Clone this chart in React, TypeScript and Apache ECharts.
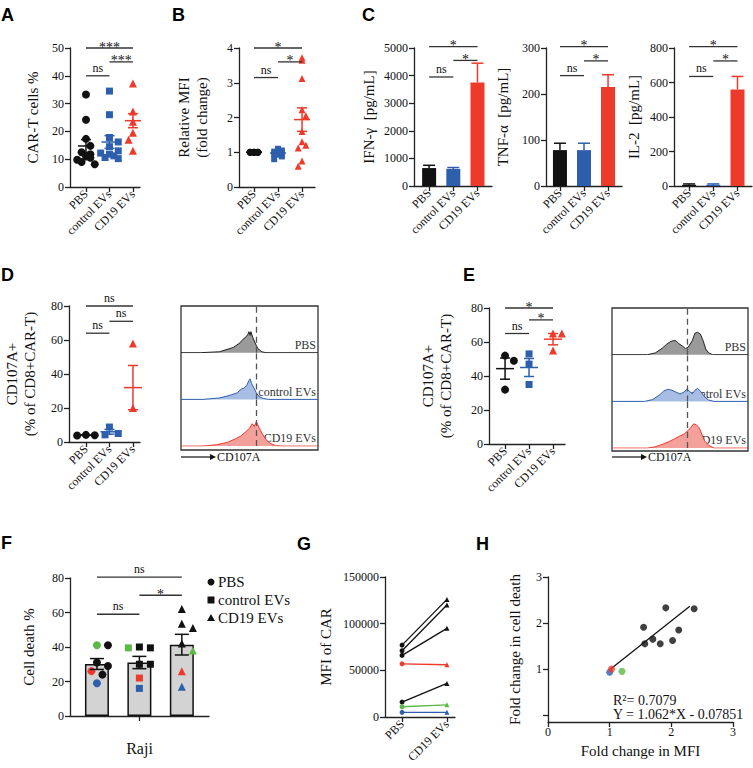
import React, { useEffect, useRef } from "react";
import * as echarts from "echarts";

const SERIF = "'Liberation Serif', 'Times New Roman', serif";
const SANS = "'Liberation Sans', Arial, sans-serif";
const INK = "#111";
const BLACK = "#111111";
const BLUE = "#2d5fad";
const RED = "#ee3a2b";
const GREEN = "#5cb847";
const GROUPS = ["PBS", "control EVs", "CD19 EVs"];

// ---- A: CAR-T cells %
const A_PBS = [33.3, 24.2, 17.3, 14.8, 12.5, 11.8, 11.0, 10.5, 9.8, 9.0, 8.2];
const A_CTRL = [34.5, 26.0, 17.8, 16.2, 14.5, 13.0, 12.2, 11.2, 10.6, 10.2, 11.8];
const A_CD19 = [37.2, 36.5, 27.2, 25.3, 23.5, 21.5, 19.5, 17.8, 17.0, 13.0];
const SIG_A = [[1, 3, 50, "***"], [2, 3, 45, "***"], [1, 2, 40, "ns"]];

// ---- B: Relative MFI
const B_PBS = [1, 1, 1, 1, 1, 1, 1, 1, 1, 1];
const B_CTRL = [1.08, 1.1, 1.02, 0.97, 0.93, 0.88, 0.8, 1.0, 0.95, 1.05];
const B_CD19 = [3.72, 3.65, 3.12, 2.22, 2.05, 1.6, 1.3, 1.2, 1.12, 0.75, 0.6];
const SIG_B = [[1, 3, 4.0, "*"], [2, 3, 3.6, "*"], [1, 2, 3.15, "ns"]];

// ---- C: cytokines (mean, error)
const C_IFN = [650, 620, 3750];
const C_IFN_ERR = [100, 50, 700];
const C_TNF = [78, 78, 215];
const C_TNF_ERR = [15, 15, 27];
const C_IL2 = [7, 7, 560];
const C_IL2_ERR = [5, 5, 75];
const SIG_IFN = [[1, 3, 5050, "*"], [2, 3, 4550, "*"], [1, 2, 3950, "ns"]];
const SIG_TNF = [[1, 3, 303, "*"], [2, 3, 272, "*"], [1, 2, 240, "ns"]];
const SIG_IL2 = [[1, 3, 808, "*"], [2, 3, 725, "*"], [1, 2, 635, "ns"]];

// ---- D: CD107A+ (%)
const D_PBS = [4.2, 4.0, 3.8];
const D_CTRL = [8.8, 5.0, 4.2];
const D_CD19 = [58, 20, 18];
const SIG_D = [[1, 3, 80, "ns"], [2, 3, 71, "ns"], [1, 2, 64, "ns"]];

// ---- E: CD107A+ (%)
const E_PBS = [52, 49, 32];
const E_CTRL = [53, 47, 35];
const E_CD19 = [65, 65, 55];
const SIG_E = [[1, 3, 80, "*"], [2, 3, 73, "*"], [1, 2, 65, "ns"]];

// ---- Histograms (CD107A intensity 0-100, count as % of row height)
const D_HIST_PBS = [[0, 0], [14, 0], [28, 2], [38, 11], [43, 21], [45, 28], [47.5, 34], [49, 40], [49.6, 45], [50.4, 37], [51, 45], [52.5, 32], [54.7, 17], [56, 9], [59, 2], [62, 0], [100, 0]];
const D_HIST_CTRL = [[0, 0], [16, 0], [28, 3], [36, 9], [41, 14], [44, 22], [46, 24], [48, 30], [49.5, 40], [50.5, 44], [51.5, 34], [53, 26], [55, 14], [57, 6], [60, 2], [64, 0], [100, 0]];
const D_HIST_CD19 = [[0, 0], [16, 0], [26, 3], [34, 8], [40, 16], [44, 22], [47, 30], [50, 38], [52, 48], [53.5, 42], [55, 52], [57, 40], [59, 28], [62, 14], [65, 6], [69, 1], [74, 0], [100, 0]];
const E_HIST_PBS = [[0, 0], [26, 0], [32, 4], [37, 14], [40, 22], [43, 28], [45, 30], [47, 30], [49, 24], [52, 18], [54, 13], [56, 16], [59, 30], [61, 46], [63, 48], [65, 44], [67, 30], [69, 12], [71, 4], [74, 0], [100, 0]];
const E_HIST_CTRL = [[0, 0], [24, 0], [30, 4], [35, 14], [38, 22], [41, 26], [44, 24], [47, 20], [50, 16], [53, 20], [55, 26], [57, 22], [59, 16], [61, 24], [63, 28], [65, 22], [68, 10], [71, 3], [75, 0], [100, 0]];
const E_HIST_CD19 = [[0, 0], [26, 0], [32, 3], [37, 8], [42, 14], [46, 20], [50, 26], [53, 30], [56, 38], [58, 44], [60, 52], [62, 50], [64, 44], [66, 30], [68, 16], [71, 6], [75, 0], [100, 0]];
const HIST_GATE = 55;
const HIST_ROWS = ["PBS", "control EVs", "CD19 EVs"];

// ---- F: Cell death % (Raji), one value per donor
const F_PBS = [41, 41, 31, 29, 26, 24, 19];
const F_PBS_DONOR = ["g", "k", "k", "k", "r", "k", "b"];
const F_CTRL = [39.5, 40, 39.5, 30, 30, 22, 16];
const F_CTRL_DONOR = ["k", "k", "g", "k", "k", "r", "b"];
const F_CD19 = [62, 51, 53.5, 42, 38, 26, 17];
const F_CD19_DONOR = ["k", "k", "k", "k", "g", "r", "b"];
const SIG_F = [[1, 3, 80.5, "ns"], [2, 3, 70, "*"], [1, 2, 59, "ns"]];

// ---- G: MFI of CAR per donor (PBS -> CD19 EVs)
const G_PBS = [77000, 71000, 66000, 16000, 57000, 11000, 5000];
const G_CD19 = [126000, 120000, 95000, 36000, 56000, 13000, 5000];
const G_DONOR = ["k", "k", "k", "k", "r", "g", "b"];

// ---- H: fold change in MFI vs fold change in cell death
const H_X = [1.0, 1.03, 1.2, 1.55, 1.57, 1.7, 1.82, 1.91, 2.02, 2.12, 2.37];
const H_Y = [0.93, 1.0, 0.95, 1.91, 1.55, 1.65, 1.55, 2.33, 1.62, 1.85, 2.31];
const H_DONOR = ["b", "r", "g", "k", "k", "k", "k", "k", "k", "k", "k"];
const H_FIT_SLOPE = 1.062;
const H_FIT_INTERCEPT = -0.07851;
const H_FIT_RANGE = [1.0, 2.3];

const DONOR_COLOR: Record<string, string> = { k: BLACK, r: RED, g: GREEN, b: BLUE };

function mean(a: number[]) { return a.reduce((s, v) => s + v, 0) / a.length; }
function sem(a: number[]) {
  const m = mean(a);
  const v = a.reduce((s, x) => s + (x - m) * (x - m), 0) / (a.length - 1);
  return Math.sqrt(v) / Math.sqrt(a.length);
}

function swarm(values: number[], pxX: number, pxY: number, diam: number, maxPx: number) {
  const order = values.map((_, i) => i).sort((a, b) => values[b] - values[a]);
  const placed: { x: number; y: number }[] = [];
  const offs = new Array(values.length).fill(0);
  const step = diam * 0.55;
  const cands: number[] = [0];
  for (let k = 1; k * step <= maxPx + 1e-6; k++) cands.push(k * step, -k * step);
  let fb = 0;
  for (const i of order) {
    const y = values[i] * pxY;
    let chosen: number | null = null;
    for (const c of cands) {
      if (placed.every((p) => Math.hypot(p.x - c, p.y - y) >= diam)) { chosen = c; break; }
    }
    if (chosen === null) { chosen = cands[fb % cands.length]; fb++; }
    placed.push({ x: chosen, y });
    offs[i] = chosen / pxX;
  }
  return offs;
}

const AXL = { color: "#222", width: 1.3 };
const plain = (v: number) => String(v);

function yAx(gi: number, min: number, max: number, interval: number, name: string, nameGap: number, extra: any = {}) {
  return {
    type: "value", gridIndex: gi, min, max, interval,
    name, nameLocation: "middle", nameGap, nameRotate: 90,
    nameTextStyle: { fontFamily: SERIF, fontSize: 15, color: INK, lineHeight: 18 },
    axisLine: { show: true, lineStyle: AXL },
    axisTick: { show: true, length: 5, lineStyle: AXL },
    axisLabel: { fontFamily: SERIF, fontSize: 12, color: INK, margin: 6, formatter: plain },
    splitLine: { show: false },
    ...extra,
  };
}

function xCat(gi: number, min: number, max: number, ticks: number[], labels: string[] | null, extra: any = {}) {
  return {
    type: "value", gridIndex: gi, min, max,
    axisLine: { show: true, onZero: false, lineStyle: AXL },
    axisTick: { show: true, customValues: ticks, length: 5, lineStyle: AXL },
    axisLabel: labels
      ? { show: true, customValues: ticks, rotate: 45, margin: 5, fontFamily: SERIF, fontSize: 12, color: INK,
          formatter: (v: number) => labels[Math.round(v) - 1] ?? "" }
      : { show: false },
    splitLine: { show: false },
    ...extra,
  };
}

function hiddenAx(gi: number, min: number, max: number) {
  return { type: "value", gridIndex: gi, min, max, show: false, splitLine: { show: false } };
}

function sigSeries(gi: number, sig: any[], fontStar = 15) {
  return {
    type: "custom", xAxisIndex: gi, yAxisIndex: gi, silent: true, z: 6,
    data: sig.map((s) => [s[0], s[1], s[2]]),
    encode: { x: [0, 1], y: 2 },
    renderItem: (params: any, api: any) => {
      const a = api.coord([api.value(0), api.value(2)]);
      const b = api.coord([api.value(1), api.value(2)]);
      const label = sig[params.dataIndex][3];
      const isStar = label.indexOf("*") >= 0;
      return {
        type: "group",
        children: [
          { type: "line", shape: { x1: a[0], y1: a[1], x2: b[0], y2: b[1] }, style: { stroke: "#333", lineWidth: 1.3 } },
          {
            type: "text",
            x: (a[0] + b[0]) / 2, y: a[1] + (isStar ? 6 : -2),
            style: {
              text: label, fontFamily: SERIF, fontSize: isStar ? fontStar : 12, fill: INK,
              align: "center", verticalAlign: "bottom",
            },
          },
        ],
      };
    },
  };
}

function meanSem(gi: number, groups: number[][], colors: string[], halfW: number, capW: number) {
  return {
    type: "custom", xAxisIndex: gi, yAxisIndex: gi, silent: true, z: 5,
    data: groups.map((g, i) => [i + 1, mean(g), sem(g)]),
    encode: { x: 0, y: 1 },
    renderItem: (params: any, api: any) => {
      const x = api.value(0), m = api.value(1), e = api.value(2);
      const c = api.coord([x, m]), t = api.coord([x, m + e]), b = api.coord([x, m - e]);
      const st = { stroke: colors[params.dataIndex], lineWidth: 1.5 };
      return {
        type: "group",
        children: [
          { type: "line", shape: { x1: c[0] - halfW, y1: c[1], x2: c[0] + halfW, y2: c[1] }, style: st },
          { type: "line", shape: { x1: c[0], y1: t[1], x2: c[0], y2: b[1] }, style: st },
          { type: "line", shape: { x1: c[0] - capW, y1: t[1], x2: c[0] + capW, y2: t[1] }, style: st },
          { type: "line", shape: { x1: c[0] - capW, y1: b[1], x2: c[0] + capW, y2: b[1] }, style: st },
        ],
      };
    },
  };
}

function errUp(gi: number, vals: number[], errs: number[], colors: string[], capW: number, both = false) {
  return {
    type: "custom", xAxisIndex: gi, yAxisIndex: gi, silent: true, z: 4,
    data: vals.map((v, i) => [i + 1, v, errs[i]]),
    encode: { x: 0, y: 1 },
    renderItem: (params: any, api: any) => {
      const x = api.value(0), m = api.value(1), e = api.value(2);
      const c = api.coord([x, both ? m - e : m]), t = api.coord([x, m + e]);
      const st = { stroke: colors[params.dataIndex], lineWidth: 1.5 };
      const ch: any[] = [
        { type: "line", shape: { x1: c[0], y1: t[1], x2: c[0], y2: c[1] }, style: st },
        { type: "line", shape: { x1: c[0] - capW, y1: t[1], x2: c[0] + capW, y2: t[1] }, style: st },
      ];
      if (both) ch.push({ type: "line", shape: { x1: c[0] - capW, y1: c[1], x2: c[0] + capW, y2: c[1] }, style: st });
      return { type: "group", children: ch };
    },
  };
}

function scatterGroups(gi: number, groups: number[][], pxX: number, pxY: number, diam: number, maxPx: number, size: number, colorsPerGroup?: string[][]) {
  const symbols = ["circle", "rect", "triangle"];
  const cols = [BLACK, BLUE, RED];
  return groups.map((g, gi2) => {
    const offs = swarm(g, pxX, pxY, diam, maxPx);
    return {
      type: "scatter", xAxisIndex: gi, yAxisIndex: gi, silent: true, z: 3,
      symbol: symbols[gi2], symbolSize: gi2 === 1 ? size - 1 : size,
      itemStyle: { color: cols[gi2], opacity: 1 },
      data: g.map((v, i) => ({
        value: [gi2 + 1 + offs[i], v],
        itemStyle: colorsPerGroup ? { color: colorsPerGroup[gi2][i] } : undefined,
      })),
    };
  });
}

function histSeries(gi: number, pts: number[][], line: string, fill: string, withGate: boolean) {
  return {
    type: "line", xAxisIndex: gi, yAxisIndex: gi, silent: true, symbol: "none",
    data: pts,
    lineStyle: { color: line, width: 1 },
    areaStyle: { color: fill, opacity: 1 },
    markLine: withGate
      ? { silent: true, symbol: "none", label: { show: false },
          lineStyle: { color: "#555", type: [6, 4], width: 1.3 },
          data: [{ xAxis: HIST_GATE }] }
      : undefined,
  };
}

function buildOption() {
  const grids: any[] = [];
  const xAxes: any[] = [];
  const yAxes: any[] = [];
  const series: any[] = [];
  const add = (g: any, x: any, y: any) => { grids.push(g); xAxes.push(x); yAxes.push(y); return grids.length - 1; };

  // A
  const gA = add({ left: 70, top: 48, width: 70, height: 139 }, xCat(0, 0.32, 3.3, [1, 2, 3], GROUPS), yAx(0, 0, 50, 10, "CAR-T cells %", 28));
  series.push(...scatterGroups(gA, [A_PBS, A_CTRL, A_CD19], 23.5, 2.78, 8, 9, 8));
  series.push(meanSem(gA, [A_PBS, A_CTRL, A_CD19], [BLACK, BLUE, RED], 8, 5));
  series.push(sigSeries(gA, SIG_A, 14));

  // B
  const gB = add({ left: 239, top: 48, width: 76, height: 139 }, xCat(1, 0.375, 3.54, [1, 2, 3], GROUPS), yAx(1, 0, 4, 1, "Relative MFI\n(fold change)", 28));
  series.push(...scatterGroups(gB, [B_PBS, B_CTRL, B_CD19], 24, 34.75, 7, 5, 7));
  series.push(meanSem(gB, [B_PBS, B_CTRL, B_CD19], [BLACK, BLUE, RED], 8, 5));
  series.push(sigSeries(gB, SIG_B, 14));

  // C
  const cDefs = [
    { left: 414, w: 78, min: 0.375, max: 3.6, vals: C_IFN, errs: C_IFN_ERR, ymax: 5000, iv: 1000, name: "IFN-γ  [pg/mL]", gap: 36, sig: SIG_IFN },
    { left: 546, w: 76, min: 0.42, max: 3.58, vals: C_TNF, errs: C_TNF_ERR, ymax: 300, iv: 100, name: "TNF-α  [pg/mL]", gap: 34, sig: SIG_TNF },
    { left: 674, w: 78, min: 0.375, max: 3.6, vals: C_IL2, errs: C_IL2_ERR, ymax: 800, iv: 200, name: "IL-2  [pg/mL]", gap: 31, sig: SIG_IL2 },
  ];
  cDefs.forEach((d) => {
    const idx = grids.length;
    add({ left: d.left, top: 48, width: d.w, height: 138 }, xCat(idx, d.min, d.max, [1, 2, 3], GROUPS), yAx(idx, 0, d.ymax, d.iv, d.name, d.gap));
    series.push({
      type: "bar", xAxisIndex: idx, yAxisIndex: idx, silent: true, barWidth: 14,
      data: d.vals.map((v, i) => ({ value: [i + 1, v], itemStyle: { color: [BLACK, BLUE, RED][i] } })),
    });
    series.push(errUp(idx, d.vals, d.errs, [BLACK, BLUE, RED], 6));
    series.push(sigSeries(idx, d.sig, 14));
  });

  // D scatter
  const gD = add({ left: 69, top: 306, width: 71, height: 136 }, xCat(5, 0.28, 3.3, [1, 2, 3], GROUPS), yAx(5, 0, 80, 20, "CD107A+\n(% of CD8+CAR-T)", 30));
  series.push(...scatterGroups(gD, [D_PBS, D_CTRL, D_CD19], 23.5, 1.7, 8, 9, 8));
  series.push(meanSem(gD, [D_PBS, D_CTRL, D_CD19], [BLACK, BLUE, RED], 9, 5));
  series.push(sigSeries(gD, SIG_D, 14));

  // D histograms
  const dRowTop = [306, 352.7, 399.4];
  const dHists = [[D_HIST_PBS, "#222", "#9a9a9a"], [D_HIST_CTRL, BLUE, "#a8bde3"], [D_HIST_CD19, RED, "#f4a19b"]];
  dHists.forEach((h: any, r) => {
    const idx = grids.length;
    add({ left: 181, top: dRowTop[r], width: 137, height: 46.7 }, hiddenAx(idx, 0, 100), hiddenAx(idx, 0, 100));
    series.push(histSeries(idx, h[0], h[1], h[2], true));
  });

  // E scatter
  const gE = add({ left: 489, top: 308, width: 76, height: 136 }, xCat(9, 0.33, 3.5, [1, 2, 3], GROUPS), yAx(9, 0, 80, 20, "CD107A+\n(% of CD8+CAR-T)", 34));
  series.push(...scatterGroups(gE, [E_PBS, E_CTRL, E_CD19], 24, 1.7, 8, 9, 8));
  series.push(meanSem(gE, [E_PBS, E_CTRL, E_CD19], [BLACK, BLUE, RED], 9, 5));
  series.push(sigSeries(gE, SIG_E, 14));

  // E histograms
  const eRowTop = [308, 354.7, 401.4];
  const eHists = [[E_HIST_PBS, "#222", "#9a9a9a"], [E_HIST_CTRL, BLUE, "#a8bde3"], [E_HIST_CD19, RED, "#f4a19b"]];
  eHists.forEach((h: any, r) => {
    const idx = grids.length;
    add({ left: 612, top: eRowTop[r], width: 136, height: 46.7 }, hiddenAx(idx, 0, 100), hiddenAx(idx, 0, 100));
    series.push(histSeries(idx, h[0], h[1], h[2], true));
  });

  // F
  const fx = xCat(13, 0.365, 3.64, [2], null, {
    name: "Raji", nameLocation: "middle", nameGap: 24,
    nameTextStyle: { fontFamily: SERIF, fontSize: 16, color: INK },
  });
  const gF = add({ left: 70, top: 578, width: 139, height: 138 }, fx, yAx(13, 0, 80, 20, "Cell death %", 32));
  const F_GROUPS = [F_PBS, F_CTRL, F_CD19];
  series.push({
    type: "bar", xAxisIndex: gF, yAxisIndex: gF, silent: true, barWidth: 24, z: 2,
    itemStyle: { color: "#d3d3d3", borderColor: "#111", borderWidth: 1.5 },
    data: F_GROUPS.map((g, i) => [i + 1, mean(g)]),
  });
  series.push(errUp(gF, F_GROUPS.map(mean), F_GROUPS.map(sem), [BLACK, BLACK, BLACK], 7, true));
  const donorCols = [F_PBS_DONOR, F_CTRL_DONOR, F_CD19_DONOR].map((d) => d.map((k) => DONOR_COLOR[k]));
  series.push(...scatterGroups(gF, F_GROUPS, 42.4, 1.725, 10, 13, 8, donorCols));
  series.push(sigSeries(gF, SIG_F, 14));

  // G
  const gG = add({ left: 385, top: 577, width: 70, height: 140 }, xCat(14, 0.62, 2.18, [1, 2], ["PBS", "CD19 EVs"]), yAx(14, 0, 150000, 50000, "MFI of CAR", 50));
  G_PBS.forEach((v, i) => {
    const col = DONOR_COLOR[G_DONOR[i]];
    series.push({
      type: "line", xAxisIndex: gG, yAxisIndex: gG, silent: true, symbolSize: 5,
      lineStyle: { color: col, width: 1.3 }, itemStyle: { color: col },
      data: [{ value: [1, v], symbol: "circle" }, { value: [2, G_CD19[i]], symbol: "triangle" }],
    });
  });

  // H (x axis offset below y = 0, as in the reference)
  const hx = {
    type: "value", gridIndex: 15, min: 0, max: 3, interval: 1,
    name: "Fold change in MFI", nameLocation: "middle", nameGap: 21,
    nameTextStyle: { fontFamily: SERIF, fontSize: 15, color: INK },
    axisLine: { show: true, onZero: false, lineStyle: AXL },
    axisTick: { show: true, length: 5, lineStyle: AXL },
    axisLabel: { fontFamily: SERIF, fontSize: 12, color: INK, margin: 4 },
    splitLine: { show: false },
  };
  const hy = {
    type: "value", gridIndex: 15, min: -0.15, max: 3,
    name: "Fold change in cell death", nameLocation: "middle", nameGap: 26, nameRotate: 90,
    nameTextStyle: { fontFamily: SERIF, fontSize: 15, color: INK },
    axisLine: { show: true, onZero: false, lineStyle: AXL },
    axisTick: { show: true, length: 5, customValues: [0, 1, 2, 3], lineStyle: AXL },
    axisLabel: { fontFamily: SERIF, fontSize: 12, color: INK, margin: 6, customValues: [1, 2, 3], formatter: plain },
    splitLine: { show: false },
  };
  const gH = add({ left: 548, top: 577, width: 185, height: 145 }, hx, hy);
  series.push({
    type: "line", xAxisIndex: gH, yAxisIndex: gH, silent: true, symbol: "none",
    lineStyle: { color: "#111", width: 1.3 },
    data: H_FIT_RANGE.map((x) => [x, H_FIT_SLOPE * x + H_FIT_INTERCEPT]),
  });
  series.push({
    type: "scatter", xAxisIndex: gH, yAxisIndex: gH, silent: true, symbolSize: 7, z: 4,
    data: H_X.map((x, i) => ({ value: [x, H_Y[i]], itemStyle: { color: DONOR_COLOR[H_DONOR[i]] } })),
  });

  // graphics
  const letter = (t: string, x: number, y: number) => ({
    type: "text", x, y, style: { text: t, fontFamily: SANS, fontWeight: "bold", fontSize: 18, fill: "#000", verticalAlign: "top" },
  });
  const txt = (t: string, x: number, y: number, align: string, size = 12) => ({
    type: "text", x, y, style: { text: t, fontFamily: SERIF, fontSize: size, fill: INK, align, verticalAlign: "middle" },
  });
  const graphic: any[] = [
    letter("A", 1, 6), letter("B", 172, 6), letter("C", 362, 6),
    letter("D", 1, 266), letter("E", 463, 266),
    letter("F", 1, 534), letter("G", 297, 535), letter("H", 476, 535),
    { type: "rect", shape: { x: 181, y: 306, width: 137, height: 144 }, style: { fill: "none", stroke: "#333", lineWidth: 1.3 } },
    { type: "rect", shape: { x: 612, y: 308, width: 136, height: 143 }, style: { fill: "none", stroke: "#333", lineWidth: 1.3 } },
    { type: "line", shape: { x1: 181, y1: 457, x2: 211, y2: 457 }, style: { stroke: "#111", lineWidth: 1.2 } },
    { type: "polygon", shape: { points: [[210, 454], [216, 457], [210, 460]] }, style: { fill: "#111" } },
    txt("CD107A", 217, 457, "left", 12),
    { type: "line", shape: { x1: 612, y1: 457, x2: 642, y2: 457 }, style: { stroke: "#111", lineWidth: 1.2 } },
    { type: "polygon", shape: { points: [[641, 454], [647, 457], [641, 460]] }, style: { fill: "#111" } },
    txt("CD107A", 648, 457, "left", 12),
    { type: "circle", shape: { cx: 211, cy: 582, r: 3.5 }, style: { fill: "#111" } },
    { type: "rect", shape: { x: 207.5, y: 596.5, width: 7, height: 7 }, style: { fill: "#111" } },
    { type: "polygon", shape: { points: [[211, 614], [215, 621], [207, 621]] }, style: { fill: "#111" } },
    txt("PBS", 218, 582, "left", 15), txt("control EVs", 218, 600, "left", 15), txt("CD19 EVs", 218, 618, "left", 15),
    txt("R²= 0.7079", 613, 700, "left", 14),
    txt("Y = 1.062*X - 0.07851", 613, 714, "left", 14),
  ];
  HIST_ROWS.forEach((r, i) => {
    graphic.push({ type: "text", x: 316, y: dRowTop[i] + 45, style: { text: r, fontFamily: SERIF, fontSize: 12, fill: "#333", align: "right", verticalAlign: "bottom" } });
    graphic.push({ type: "text", x: 746, y: eRowTop[i] + 45, style: { text: r, fontFamily: SERIF, fontSize: 12, fill: "#333", align: "right", verticalAlign: "bottom" } });
  });

  return { animation: false, backgroundColor: "#fff", grid: grids, xAxis: xAxes, yAxis: yAxes, series, graphic };
}

export default function App() {
  const ref = useRef<HTMLDivElement>(null);
  useEffect(() => {
    if (!ref.current) return;
    const chart = echarts.init(ref.current, undefined, { renderer: "svg" });
    chart.setOption(buildOption() as any);
    return () => chart.dispose();
  }, []);
  return <div ref={ref} style={{ position: "fixed", left: 0, top: 0, width: 753, height: 768, background: "#fff" }} />;
}
